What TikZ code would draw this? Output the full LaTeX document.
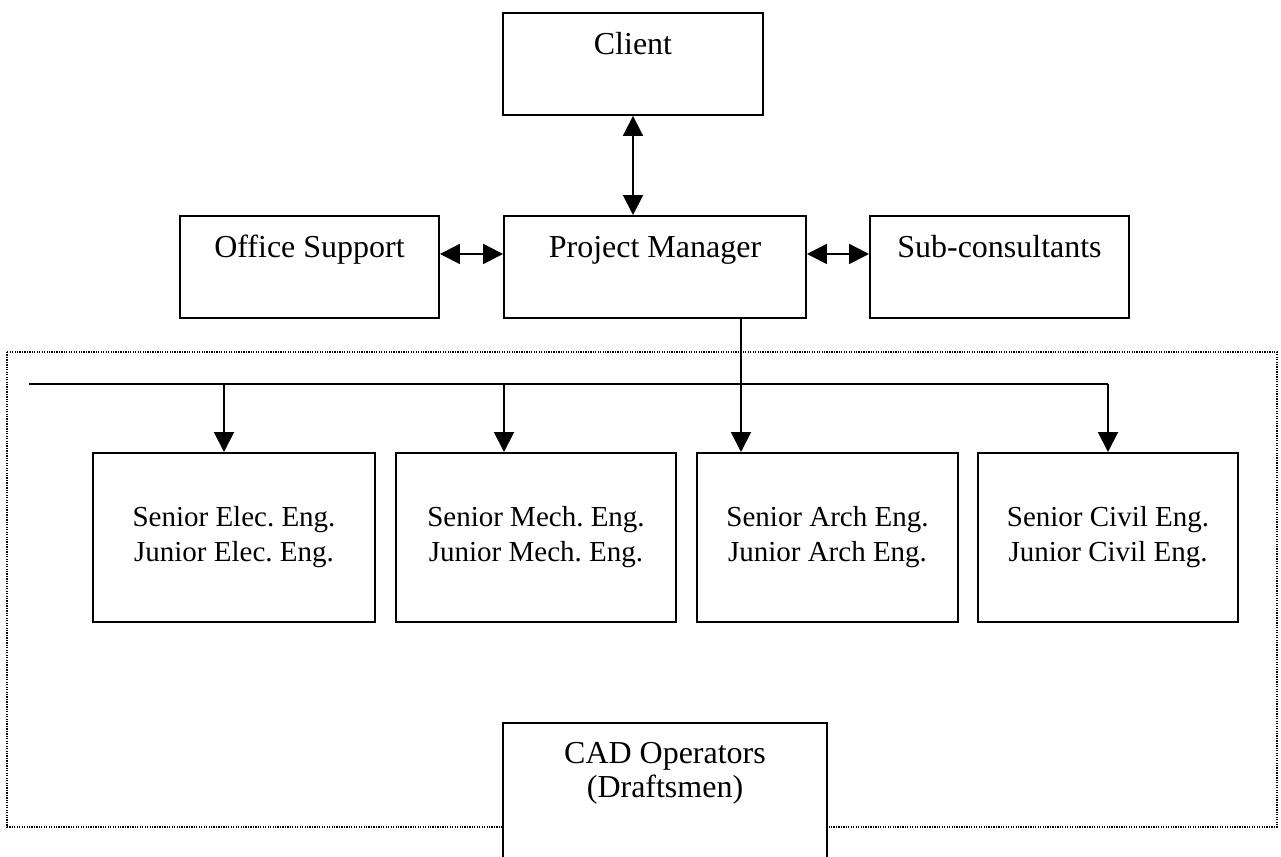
\documentclass[tikz,border=0pt]{standalone}
\usepackage{fontspec}
\setmainfont{Liberation Serif}
\usepackage{tikz}
\usetikzlibrary{arrows.meta,calc}
\frenchspacing

\begin{document}
\begin{tikzpicture}[
  box/.style={draw, line width=1.1pt, fill=white, inner sep=0pt, align=center, anchor=north},
  topbox/.style={box, minimum width=#1, text height=0.84cm, text depth=1.2cm, font=\fontsize{18.2pt}{21pt}\selectfont},
  engbox/.style={box, minimum width=#1, minimum height=3.38cm, font=\fontsize{16.5pt}{19.9pt}\selectfont},
  link/.style={line width=1.1pt, -{Triangle[length=0.4cm,width=0.4cm]}},
  twoway/.style={line width=1.1pt, {Triangle[length=0.4cm,width=0.4cm]}-{Triangle[length=0.4cm,width=0.4cm]}}
]
\useasboundingbox (0,0) rectangle (25.62,-17.14);

% dotted frame round the teams
\draw [line width=1pt, dash pattern=on 0.7pt off 0.7pt] (0.14,-7.04) rectangle (25.54,-16.54);

\node [topbox=5.2cm] (client) at (12.66,-0.24) {Client};
\node [topbox=5.18cm] (office) at (6.19,-4.3) {Office Support};
\node [topbox=6.04cm] (pm) at (13.1,-4.3) {Project Manager};
\node [topbox=5.18cm] (sub) at (19.99,-4.3) {Sub-consultants};

\draw [twoway] (client.south) -- (client.south |- pm.north);
\draw [twoway] ([yshift=0.26cm]office.east) -- ([yshift=0.26cm]pm.west);
\draw [twoway] ([yshift=0.26cm]pm.east) -- ([yshift=0.26cm]sub.west);

\node [engbox=5.64cm] (elec) at (4.68,-9.04) {Senior Elec. Eng.\\Junior Elec. Eng.};
\node [engbox=5.6cm] (mech) at (10.72,-9.04) {Senior Mech. Eng.\\Junior Mech. Eng.};
\node [engbox=5.22cm] (arch) at (16.55,-9.04) {Senior Arch Eng.\\Junior Arch Eng.};
\node [engbox=5.2cm] (civil) at (22.16,-9.04) {Senior Civil Eng.\\Junior Civil Eng.};

% bus line
\coordinate (busw) at (0.58,-7.68);
\coordinate (tapelec) at (4.48,-7.68);
\coordinate (tapmech) at (10.08,-7.68);
\coordinate (taparch) at (14.82,-7.68);
\coordinate (tapcivil) at (22.16,-7.68);
\draw [line width=1.1pt] (busw) -- (tapcivil);

\draw [link] (pm.south -| taparch) -- (taparch |- arch.north);
\draw [link] (tapelec) -- (tapelec |- elec.north);
\draw [link] (tapmech) -- (tapmech |- mech.north);
\draw [link] (tapcivil) -- (tapcivil |- civil.north);

\node [box, minimum width=6.48cm, text height=1.5cm, text depth=2.5cm, font=\fontsize{18.2pt}{19.9pt}\selectfont] (cad) at (13.3,-14.44) {CAD Operators\\(Draftsmen)};
\end{tikzpicture}
\end{document}
